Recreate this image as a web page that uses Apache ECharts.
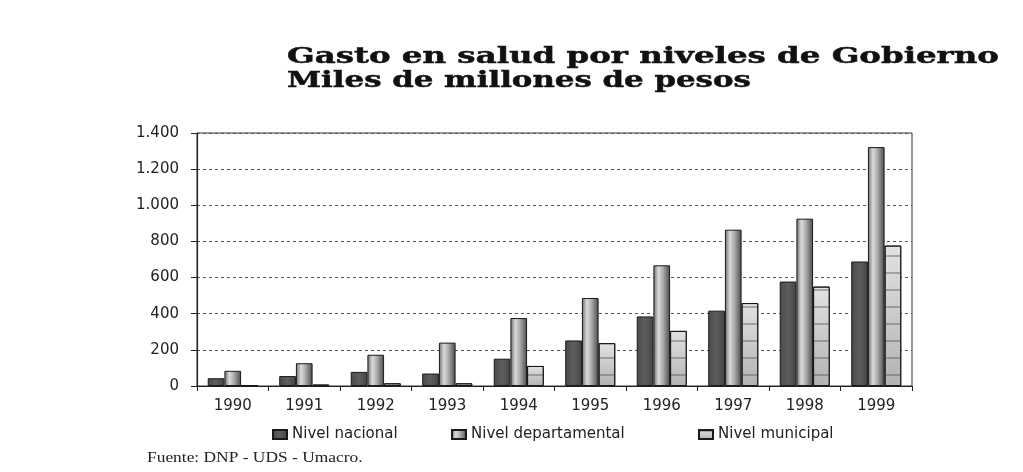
<!DOCTYPE html>
<html><head><meta charset="utf-8">
<script src="https://cdn.jsdelivr.net/npm/echarts@6/dist/echarts.min.js"></script>
<style>html,body{margin:0;padding:0;background:#fff}#c{width:1023px;height:472px}</style>
</head><body><div id="c"></div>
<script>
const years = ['1990','1991','1992','1993','1994','1995','1996','1997','1998','1999'];
const nacional = [43, 55, 78, 69, 151, 252, 385, 417, 578, 689];
const departamental = [84, 126, 173, 240, 376, 487, 668, 865, 926, 1322];
const municipal = [2, 8, 15, 15, 111, 237, 305, 459, 550, 777];
const seriesNames = ['Nivel nacional', 'Nivel departamental', 'Nivel municipal'];
const titleLines = ['Gasto en salud por niveles de Gobierno', 'Miles de millones de pesos'];
const sourceText = 'Fuente: DNP - UDS - Umacro.';

const chart = echarts.init(document.getElementById('c'), null, {renderer:'canvas'});
const border = {borderColor:'#1a1a1a', borderWidth:1};
const legendText = {fontFamily:'DejaVu Sans', fontSize:15, color:'#222'};
function legendAt(left, name){
  return {left:left, top:422, icon:'rect', itemWidth:14, itemHeight:9, itemGap:0,
    textStyle:legendText, data:[name], selectedMode:false};
}
chart.setOption({
  backgroundColor:'#ffffff',
  animation:false,
  graphic:[
    {type:'text', x:287, y:57, scaleX:1.41,
      style:{text:titleLines[0], x:0, y:0, font:'bold 23px "DejaVu Serif"', fill:'#111', stroke:'#111', lineWidth:0.5, textVerticalAlign:'middle'}},
    {type:'text', x:287, y:81, scaleX:1.34,
      style:{text:titleLines[1], x:0, y:0, font:'bold 23px "DejaVu Serif"', fill:'#111', stroke:'#111', lineWidth:0.5, textVerticalAlign:'middle'}},
    {type:'text', x:147, y:458, scaleX:1.16,
      style:{text:sourceText, x:0, y:0, font:'15px "Liberation Serif"', fill:'#222', textVerticalAlign:'middle'}}
  ],
  legend:[legendAt(267, seriesNames[0]), legendAt(446, seriesNames[1]), legendAt(693, seriesNames[2])],
  grid:{left:197, right:111, top:133, bottom:86, show:true, borderColor:'#333', borderWidth:1, backgroundColor:'transparent'},
  xAxis:{
    type:'category', data: years,
    axisLine:{lineStyle:{color:'#222', width:1.2}},
    axisTick:{show:true, length:5, lineStyle:{color:'#222'}},
    axisLabel:{fontFamily:'DejaVu Sans', fontSize:15, color:'#222', margin:13}
  },
  yAxis:{
    type:'value', min:0, max:1400, interval:200,
    axisLine:{show:true, lineStyle:{color:'#222', width:1.2}},
    axisTick:{show:true, length:6, lineStyle:{color:'#222'}},
    axisLabel:{fontFamily:'DejaVu Sans', fontSize:15, color:'#222', margin:18,
      formatter: v => String(v).replace(/\B(?=(\d{3})+(?!\d))/g, '.')},
    splitLine:{show:true, lineStyle:{color:'#555', type:[3,3], width:1}}
  },
  series:[
    {name:seriesNames[0], type:'bar', data:nacional, barGap:'0%', barCategoryGap:'30%',
      itemStyle:Object.assign({color:{type:'linear',x:0,y:0,x2:1,y2:0,colorStops:[{offset:0,color:'#4a4a4a'},{offset:0.5,color:'#5e5e5e'},{offset:1,color:'#444'}]}}, border)},
    {name:seriesNames[1], type:'bar', data:departamental,
      itemStyle:Object.assign({color:{type:'linear',x:0,y:0,x2:1,y2:0,colorStops:[{offset:0,color:'#6a6a6a'},{offset:0.3,color:'#dadada'},{offset:0.55,color:'#b0b0b0'},{offset:1,color:'#4a4a4a'}]}}, border)},
    {name:seriesNames[2], type:'bar', data:municipal,
      itemStyle:Object.assign({color:{type:'linear',x:0,y:0,x2:0,y2:1,colorStops:[{offset:0,color:'#e2e2e2'},{offset:1,color:'#b2b2b2'}]},
        decal:{symbol:'rect', symbolSize:1, dashArrayX:[[1,0]], dashArrayY:[1.5,15], rotation:0, color:'rgba(80,80,80,0.4)'}}, border)}
  ]
});
</script></body></html>
